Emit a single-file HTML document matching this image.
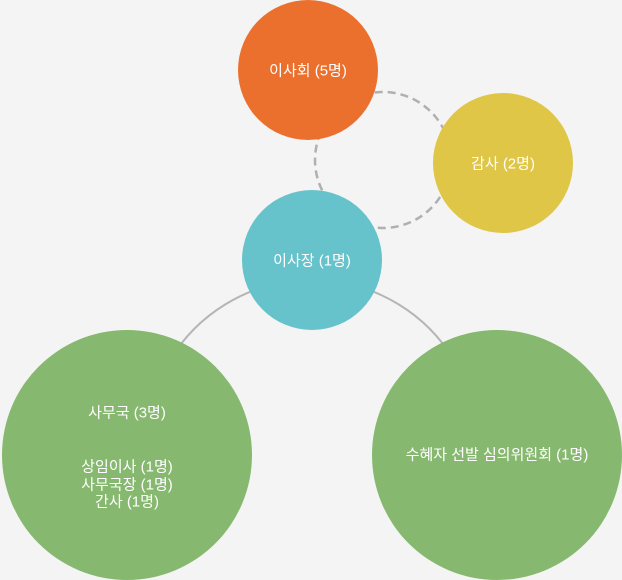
<!DOCTYPE html>
<html><head><meta charset="utf-8"><style>
html,body{margin:0;padding:0;background:#f4f4f4;}
svg{display:block}
text{font-family:"Liberation Sans","Noto Sans CJK KR",sans-serif;font-size:15px;fill:#fff;text-anchor:middle;dominant-baseline:central}
</style></head><body>
<svg width="622" height="580" viewBox="0 0 622 580">
<rect width="622" height="580" fill="#f4f4f4"/>
<path d="M170 360 A166 166 0 0 1 454 360" fill="none" stroke="#b5b5b5" stroke-width="2"/>
<circle cx="383" cy="160" r="68" fill="none" stroke="#b0b0b0" stroke-width="2.5" stroke-dasharray="8,5"/>
<circle cx="308" cy="70" r="70" fill="#ec702d"/>
<circle cx="503" cy="163" r="70" fill="#dfc647"/>
<circle cx="312" cy="260" r="70" fill="#66c3cb"/>
<circle cx="127" cy="455" r="125" fill="#86b96f"/>
<circle cx="497" cy="455" r="125" fill="#86b96f"/>
<text x="308" y="71">이사회 (5명)</text>
<text x="503" y="164">감사 (2명)</text>
<text x="312" y="261">이사장 (1명)</text>
<text x="127" y="413">사무국 (3명)</text>
<text x="127" y="467">상임이사 (1명)</text>
<text x="127" y="485">사무국장 (1명)</text>
<text x="127" y="502">간사 (1명)</text>
<text x="497" y="455">수혜자 선발 심의위원회 (1명)</text>
</svg>
</body></html>
